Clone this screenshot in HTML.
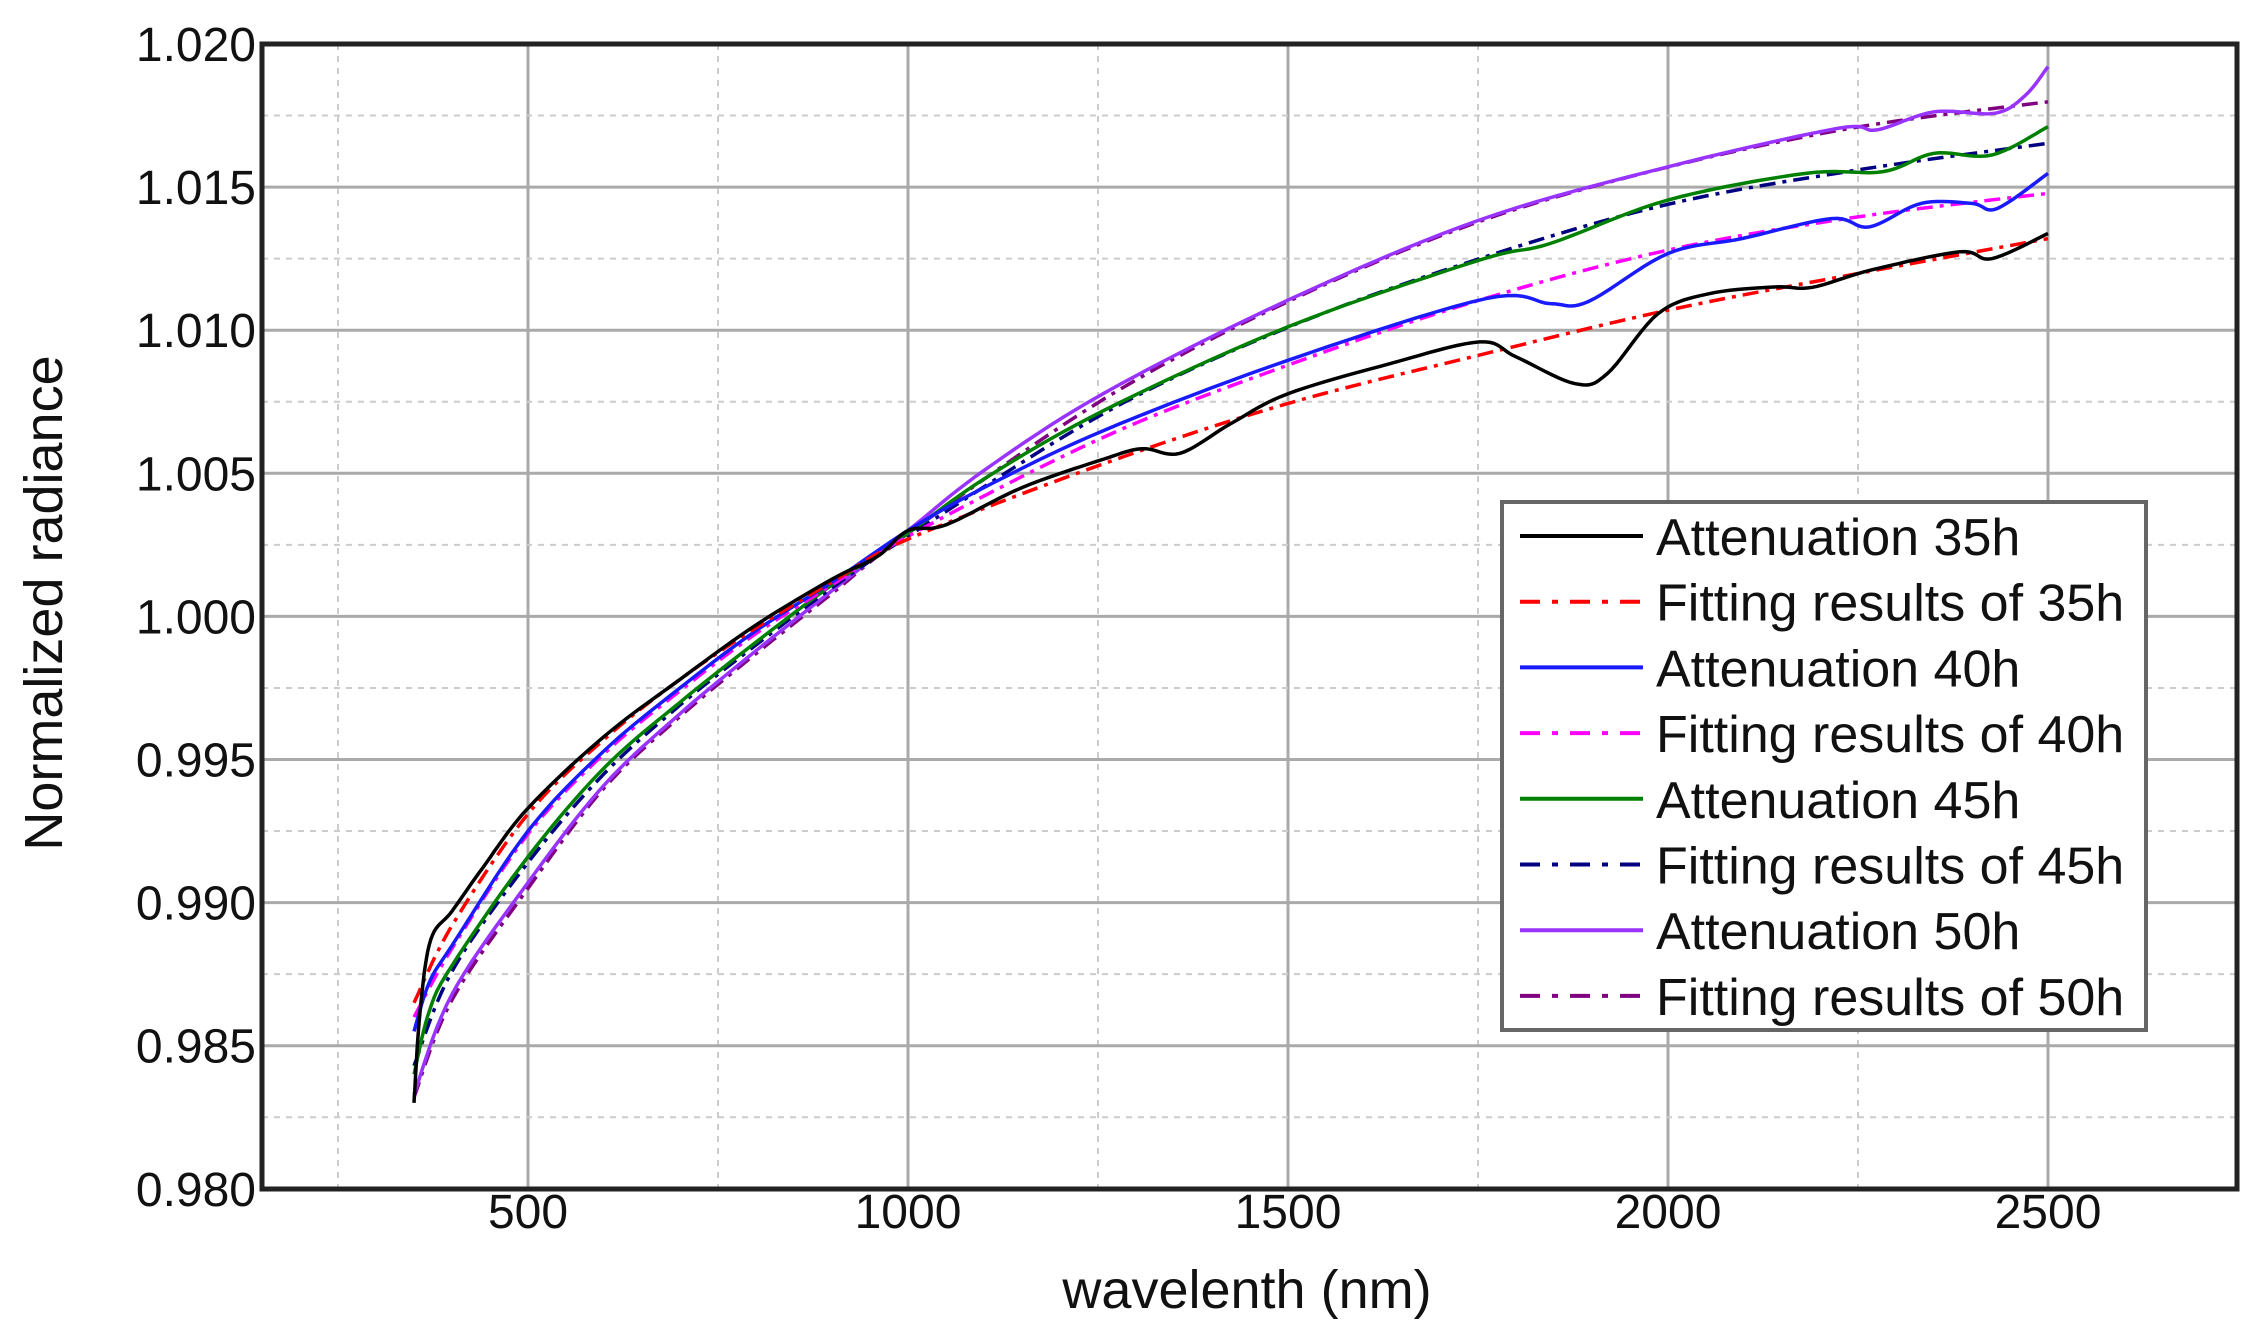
<!DOCTYPE html>
<html><head><meta charset="utf-8"><style>
html,body{margin:0;padding:0;background:#fff;}
svg{display:block;font-family:"Liberation Sans",Arial,sans-serif;}
</style></head><body>
<svg id="s" width="2252" height="1336" xmlns="http://www.w3.org/2000/svg">
<rect width="2252" height="1336" fill="#fff"/>
<g id="grid"></g>
<g id="series" fill="none" stroke-width="3.5"></g>
<rect x="262" y="44" width="1975" height="1145" fill="none" stroke="#222" stroke-width="5"/>
<g id="ticks" font-size="48" fill="#111"></g>
<text x="1247" y="1308" font-size="54" text-anchor="middle" fill="#111">wavelenth (nm)</text>
<text transform="translate(62,603) rotate(-90)" font-size="54" text-anchor="middle" fill="#111">Normalized radiance</text>
<rect x="1502" y="502" width="644" height="528" fill="#fff" stroke="#666" stroke-width="4"/>
<g id="legend" font-size="52" fill="#111"></g>
</svg>
<script>
var NS="http://www.w3.org/2000/svg";
function X(l){return 528+(l-500)*0.76;}
function Y(v){return 44+(1.020-v)/0.005*143.1;}
function el(p,n,a,t){var e=document.createElementNS(NS,n);for(var k in a)e.setAttribute(k,a[k]);if(t!=null)e.textContent=t;document.getElementById(p).appendChild(e);return e;}
for(var l=250;l<=2750;l+=250){var maj=l%500==0;el("grid","line",{x1:X(l),x2:X(l),y1:44,y2:1189,stroke:maj?"#aaa":"#ccc","stroke-width":maj?3:2,"stroke-dasharray":maj?"":"6,6"});}
for(var i=1;i<16;i++){var v=0.980+i*0.0025;var maj=i%2==0;el("grid","line",{x1:262,x2:2237,y1:Y(v),y2:Y(v),stroke:maj?"#aaa":"#ccc","stroke-width":maj?3:2,"stroke-dasharray":maj?"":"6,6"});}
for(var i=0;i<=8;i++){var v=0.980+i*0.005;el("ticks","text",{x:256,y:Y(v)+17,"text-anchor":"end"},v.toFixed(3));}
for(var l=500;l<=2500;l+=500){el("ticks","text",{x:X(l),y:1228,"text-anchor":"middle"},String(l));}
function cr(pts){var out=[];for(var i=0;i<pts.length-1;i++){var p0=pts[Math.max(0,i-1)],p1=pts[i],p2=pts[i+1],p3=pts[Math.min(pts.length-1,i+2)];
for(var t=0;t<1;t+=0.1){var t2=t*t,t3=t2*t;
var f=function(a,b,c,d){return 0.5*((2*b)+(-a+c)*t+(2*a-5*b+4*c-d)*t2+(-a+3*b-3*c+d)*t3);};
out.push([X(f(p0[0],p1[0],p2[0],p3[0])),Y(f(p0[1],p1[1],p2[1],p3[1]))]);}}
var l=pts[pts.length-1];out.push([X(l[0]),Y(l[1])]);
return "M"+out.map(function(p){return p[0].toFixed(1)+","+p[1].toFixed(1);}).join("L");}
var S=[
{c:"#000",d:"",p:[[350,.983],[358,.9862],[372,.9887],[400,.9897],[440,.9912],[500,.9933],[600,.9958],[700,.9978],[800,.9997],[900,1.0013],[960,1.0021],[1000,1.003],[1050,1.0032],[1150,1.0045],[1258,1.0055],[1308,1.00586],[1358,1.0057],[1425,1.00674],[1500,1.00778],[1634,1.00883],[1752,1.00959],[1800,1.00907],[1878,1.00813],[1920,1.00848],[1987,1.01058],[2055,1.01128],[2140,1.01151],[2190,1.0115],[2267,1.0121],[2384,1.01274],[2426,1.0125],[2500,1.01338]]},
{c:"#ff0000",d:"16,7,4,7",p:[[350,.9865],[400,.9892],[500,.9931],[600,.9957],[700,.9978],[800,.9996],[900,1.0012],[1000,1.0027],[1258,1.00534],[1500,1.00744],[1752,1.00913],[2000,1.0107],[2250,1.01198],[2500,1.0132]]},
{c:"#1a1aff",d:"",p:[[350,.9855],[370,.9872],[400,.9885],[500,.9925],[600,.9953],[700,.9975],[800,.9995],[900,1.0012],[1000,1.003],[1100,1.0045],[1258,1.0065],[1500,1.00895],[1760,1.0111],[1845,1.01093],[1895,1.011],[2000,1.01268],[2097,1.0132],[2215,1.0139],[2265,1.01361],[2333,1.01443],[2400,1.01443],[2433,1.01425],[2500,1.01548]]},
{c:"#ff00ff",d:"16,7,4,7",p:[[350,.986],[400,.9884],[500,.9924],[600,.9952],[700,.9974],[800,.9994],[900,1.0011],[1000,1.0028],[1258,1.00627],[1500,1.00878],[1752,1.01105],[2000,1.0128],[2250,1.01396],[2500,1.01478]]},
{c:"#008000",d:"",p:[[350,.984],[370,.9862],[400,.9878],[500,.9916],[600,.9947],[700,.997],[800,.9991],[900,1.0011],[1000,1.0029],[1100,1.0048],[1258,1.0072],[1500,1.01012],[1752,1.01245],[1845,1.01303],[2000,1.01455],[2181,1.01548],[2283,1.01554],[2350,1.01618],[2426,1.01612],[2500,1.01711]]},
{c:"#000080",d:"16,7,4,7",p:[[350,.9843],[400,.9876],[500,.9914],[600,.9945],[700,.9969],[800,.999],[900,1.001],[1000,1.0028],[1258,1.0071],[1500,1.0101],[1752,1.0125],[2000,1.0144],[2250,1.0156],[2500,1.01653]]},
{c:"#9933ff",d:"",p:[[350,.9833],[400,.9868],[500,.9907],[600,.9941],[700,.9966],[800,.9988],[900,1.0009],[1000,1.003],[1100,1.0051],[1258,1.0078],[1500,1.01105],[1752,1.01385],[2000,1.01571],[2223,1.01705],[2275,1.017],[2350,1.01763],[2430,1.01758],[2470,1.0182],[2500,1.01921]]},
{c:"#800080",d:"16,7,4,7",p:[[350,.9832],[400,.9866],[500,.9905],[600,.994],[700,.9965],[800,.9987],[900,1.0008],[1000,1.0029],[1258,1.0076],[1500,1.011],[1752,1.0138],[2000,1.0157],[2250,1.0171],[2500,1.01798]]}
];
for(var k=S.length-1;k>=0;k--){var s=S[k];el("series","path",{d:cr(s.p),stroke:s.c,"stroke-dasharray":s.d});}
var names=["Attenuation 35h","Fitting results of 35h","Attenuation 40h","Fitting results of 40h","Attenuation 45h","Fitting results of 45h","Attenuation 50h","Fitting results of 50h"];
for(var i=0;i<8;i++){var y=536+i*65.7;var s=S[i];
el("legend","line",{x1:1520,x2:1643,y1:y,y2:y,stroke:s.c,"stroke-width":4,"stroke-dasharray":s.d?"20,12,6,12":""});
el("legend","text",{x:1656,y:y+19},names[i]);}
</script>
</body></html>
